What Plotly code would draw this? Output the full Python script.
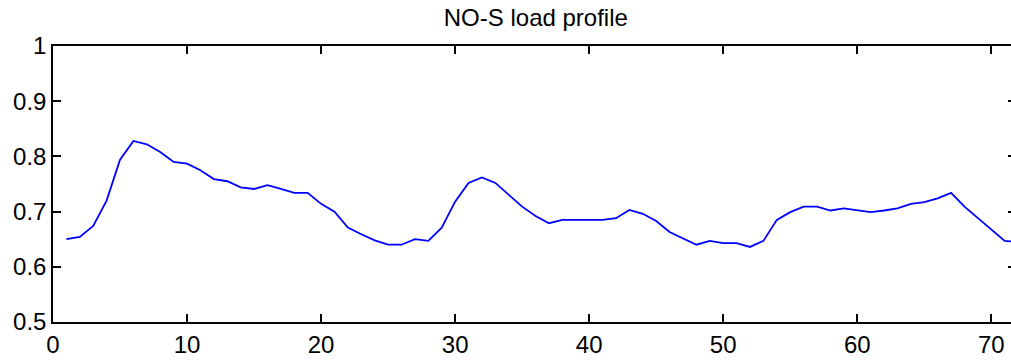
import plotly.graph_objects as go

hours = list(range(1, 73))
load = [0.650, 0.654, 0.674, 0.720, 0.794, 0.828, 0.822, 0.808, 0.790, 0.787,
        0.775, 0.759, 0.755, 0.744, 0.741, 0.748, 0.741, 0.734, 0.734, 0.714,
        0.700, 0.671, 0.659, 0.648, 0.640, 0.640, 0.650, 0.647, 0.671, 0.718,
        0.752, 0.762, 0.752, 0.730, 0.709, 0.692, 0.679, 0.685, 0.685, 0.685,
        0.685, 0.688, 0.703, 0.696, 0.683, 0.663, 0.651, 0.640, 0.647, 0.643,
        0.643, 0.636, 0.647, 0.685, 0.699, 0.709, 0.709, 0.702, 0.706, 0.702,
        0.699, 0.702, 0.706, 0.714, 0.717, 0.724, 0.734, 0.709, 0.688, 0.667,
        0.647, 0.645]
x_ticks = [0, 10, 20, 30, 40, 50, 60, 70]
y_ticks = [0.5, 0.6, 0.7, 0.8, 0.9, 1.0]
y_tick_text = ["0.5", "0.6", "0.7", "0.8", "0.9", "1"]

FONT = "Liberation Sans, Arial, sans-serif"

fig = go.Figure()
fig.add_trace(go.Scatter(x=hours, y=load, mode="lines",
                         line=dict(color="#0000ff", width=1.8),
                         showlegend=False, hoverinfo="skip"))
fig.add_trace(go.Scatter(x=hours, y=load, mode="lines", yaxis="y2",
                         line=dict(color="#0000ff", width=1.8), opacity=0,
                         showlegend=False, hoverinfo="skip"))

fig.update_layout(
    width=1011, height=362,
    margin=dict(l=53, r=0, t=46, b=40),
    paper_bgcolor="white", plot_bgcolor="white",
    font=dict(family=FONT, size=24, color="black"),
    title=dict(text="NO-S load profile", x=0.530, xref="container",
               xanchor="center", y=0.975, yref="container", yanchor="top",
               font=dict(size=24, color="black")),
    xaxis=dict(range=[0, 71.47], tickvals=x_ticks, ticks="inside", ticklen=8,
               tickwidth=1.5, tickcolor="black", showline=True, linecolor="black",
               linewidth=1.5, mirror="ticks", showgrid=False, zeroline=False,
               tickfont=dict(size=24, family=FONT, color="black")),
    yaxis=dict(range=[0.5, 1.0], tickvals=y_ticks, ticktext=y_tick_text,
               ticks="inside", ticklen=8, tickwidth=1.5, tickcolor="black",
               showline=True, linecolor="black", linewidth=1.5, mirror=False,
               showgrid=False, zeroline=False,
               tickfont=dict(size=24, family=FONT, color="black")),
    yaxis2=dict(range=[0.5, 1.0], tickvals=y_ticks, overlaying="y", side="right",
                anchor="free", position=1, ticks="inside", ticklen=3, tickwidth=1.5,
                tickcolor="black", showline=False, showticklabels=False,
                showgrid=False, zeroline=False),
)

fig.write_html("out.html")
